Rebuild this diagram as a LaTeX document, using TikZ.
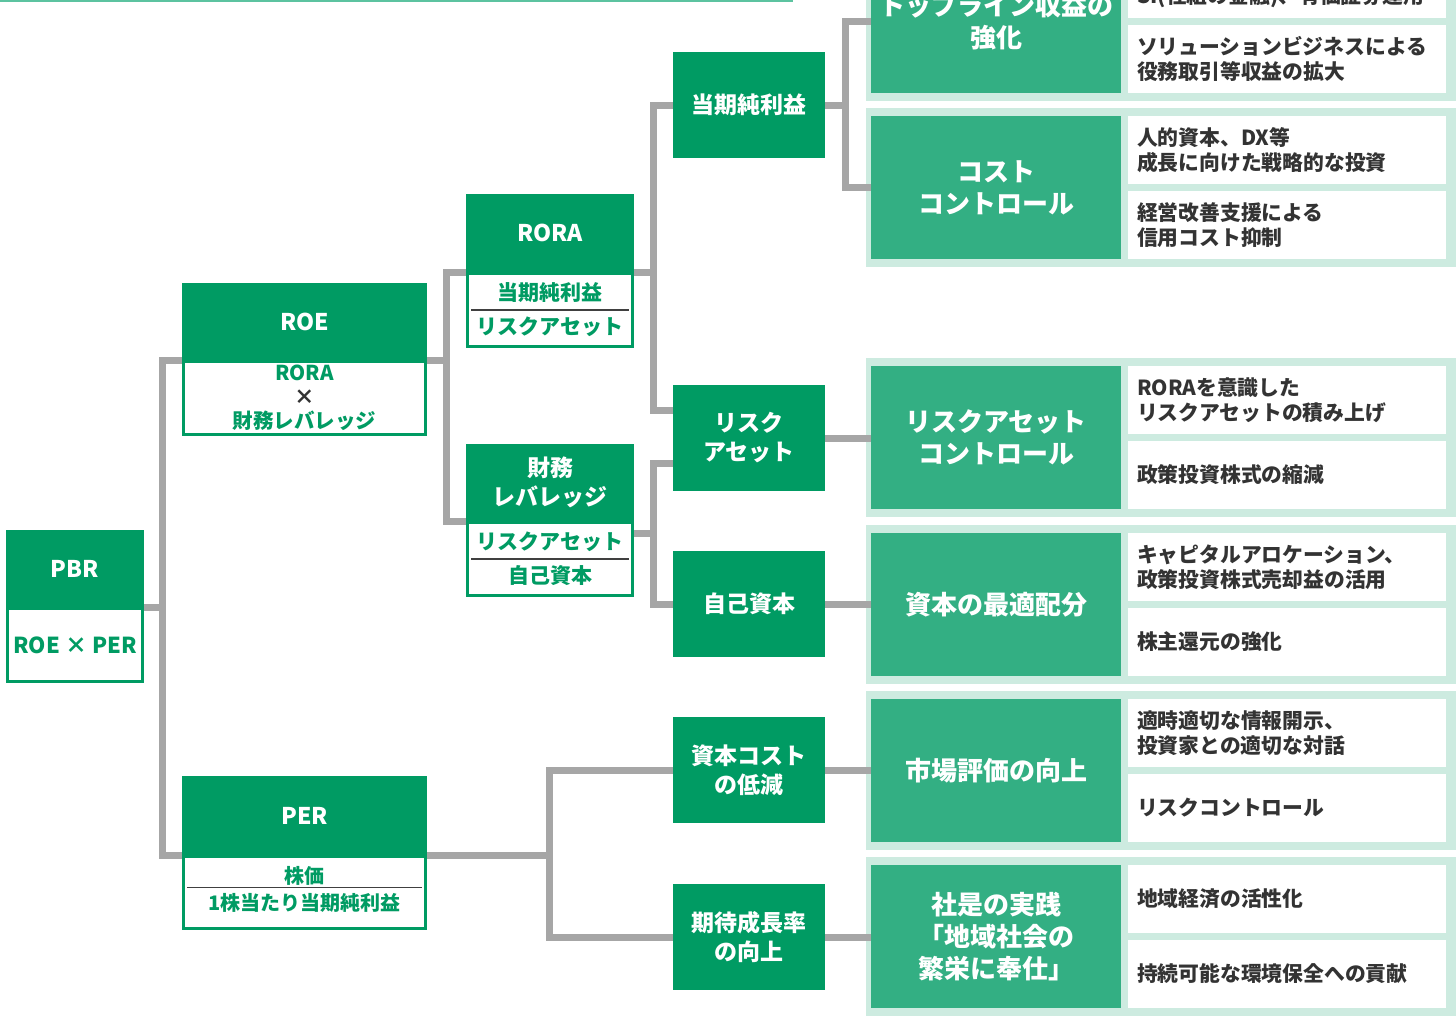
\documentclass[tikz,border=0pt]{standalone}
\usepackage{fontspec}
\setmainfont{Noto Sans CJK JP}
\definecolor{dgreen}{HTML}{009B63}
\definecolor{mgreen}{HTML}{33AF83}
\definecolor{lgreen}{HTML}{CDEBE0}
\definecolor{cgray}{HTML}{A6A6A6}
\definecolor{txt}{HTML}{333333}
\definecolor{topln}{HTML}{5CC3A0}
\begin{document}
\begin{tikzpicture}[x=1pt,y=-1pt,
  hdr/.style={anchor=north west, fill=dgreen, text=white, inner sep=0pt, outer sep=0pt, align=center,
    font=\bfseries\fontsize{23}{29}\selectfont},
  body/.style={anchor=north, fill=white, draw=dgreen, line width=3pt, text=dgreen, inner sep=0pt, align=center,
    font=\bfseries\fontsize{20.5}{24}\selectfont},
  mid/.style={anchor=north west, fill=dgreen, text=white, inner sep=0pt, outer sep=0pt, align=center,
    minimum width=152pt, minimum height=106pt, font=\bfseries\fontsize{23}{29}\selectfont},
  panel/.style={anchor=north west, fill=lgreen, inner sep=0pt, outer sep=0pt, minimum width=592pt, minimum height=159pt},
  inbox/.style={anchor=north west, fill=mgreen, text=white, inner sep=0pt, outer sep=0pt, align=center,
    minimum width=250pt, minimum height=143pt, font=\bfseries\fontsize{26}{32}\selectfont},
  wbox/.style={anchor=north west, fill=white, text=txt, inner xsep=9pt, inner ysep=0pt, outer sep=0pt, align=left,
    text width=300pt, minimum height=68pt, font=\bfseries\fontsize{20.8}{25}\selectfont},
  conn/.style={draw=cgray, line width=7pt, line join=miter},
  frac/.style={draw=black!75, line width=1.5pt}
]
\useasboundingbox (0,0) rectangle (1456,1017);
\clip (0,0) rectangle (1456,1017);

% top rule
\draw[topln, line width=1.6pt] (0,0.8) -- (793,0.8);

% right-hand panels
\node[panel] (g1p) at (866,-58) {};
\node[panel] (g2p) at (866,108) {};
\node[panel] (g3p) at (866,358) {};
\node[panel] (g4p) at (866,525) {};
\node[panel] (g5p) at (866,691) {};
\node[panel] (g6p) at (866,857) {};

% group 1
\node[inbox] (g1i) at (871,-50) {トップライン収益の\\強化};
\node[wbox] (g1a) at (1128,-50) {};
\node[anchor=west, text=txt, inner sep=0pt, font=\bfseries\fontsize{20.8}{25}\selectfont] (g1t) at ([xshift=9pt,yshift=21pt]g1a.south west) {SI(仕組の金融)、有価証券運用};
\node[wbox] (g1b) at (1128,25) {ソリューションビジネスによる\\役務取引等収益の拡大};
% group 2
\node[inbox] (g2i) at (871,116) {コスト\\コントロール};
\node[wbox] (g2a) at (1128,116) {人的資本、DX等\\成長に向けた戦略的な投資};
\node[wbox] (g2b) at (1128,191) {経営改善支援による\\信用コスト抑制};
% group 3
\node[inbox] (g3i) at (871,366) {リスクアセット\\コントロール};
\node[wbox] (g3a) at (1128,366) {RORAを意識した\\リスクアセットの積み上げ};
\node[wbox] (g3b) at (1128,441) {政策投資株式の縮減};
% group 4
\node[inbox] (g4i) at (871,533) {資本の最適配分};
\node[wbox] (g4a) at (1128,533) {キャピタルアロケーション、\\政策投資株式売却益の活用};
\node[wbox] (g4b) at (1128,608) {株主還元の強化};
% group 5
\node[inbox] (g5i) at (871,699) {市場評価の向上};
\node[wbox] (g5a) at (1128,699) {適時適切な情報開示、\\投資家との適切な対話};
\node[wbox] (g5b) at (1128,774) {リスクコントロール};
% group 6
\node[inbox] (g6i) at (871,865) {社是の実践\\「地域社会の\\繁栄に奉仕」};
\node[wbox] (g6a) at (1128,865) {地域経済の活性化};
\node[wbox] (g6b) at (1128,940) {持続可能な環境保全への貢献};

% PBR
\node[hdr, minimum width=138pt, minimum height=77pt] (pbrH) at (6,530) {PBR};
\node[body, minimum width=135pt, minimum height=73pt, font=\bfseries\fontsize{22}{26}\selectfont] (pbrB) at (pbrH.south) {ROE × PER};
% ROE
\node[hdr, minimum width=245pt, minimum height=77pt] (roeH) at (182,283) {ROE};
\node[body, minimum width=242pt, minimum height=73pt] (roeB) at (roeH.south) {RORA\\{\color{txt}×}\\財務レバレッジ};
% PER
\node[hdr, minimum width=245pt, minimum height=79pt] (perH) at (182,776) {PER};
\node[body, minimum width=242pt, minimum height=72pt] (perB) at (perH.south) {};
\node[text=dgreen, inner sep=0pt, align=center, font=\bfseries\fontsize{20}{27}\selectfont] (perT) at ([yshift=3.5pt]perB.center) {株価\\1株当たり当期純利益};
% RORA
\node[hdr, minimum width=168pt, minimum height=78pt] (roraH) at (466,194) {RORA};
\node[body, minimum width=165pt, minimum height=73pt, font=\bfseries\fontsize{21}{34}\selectfont] (roraB) at (roraH.south) {当期純利益\\リスクアセット};
% financial leverage
\node[hdr, minimum width=168pt, minimum height=77pt] (finH) at (466,444) {財務\\レバレッジ};
\node[body, minimum width=165pt, minimum height=73pt, font=\bfseries\fontsize{21}{34}\selectfont] (finB) at (finH.south) {リスクアセット\\自己資本};

\draw[frac] ([xshift=5pt]roraB.west) -- ([xshift=-5pt]roraB.east);
\draw[frac] ([xshift=5pt]finB.west) -- ([xshift=-5pt]finB.east);
\draw[frac] ([xshift=5pt,yshift=5pt]perB.west) -- ([xshift=-5pt,yshift=5pt]perB.east);

% middle column
\node[mid] (tj) at (673,52) {当期純利益};
\node[mid] (ra) at (673,385) {リスク\\アセット};
\node[mid] (jk) at (673,551) {自己資本};
\node[mid] (sc) at (673,717) {資本コスト\\の低減};
\node[mid] (kt) at (673,884) {期待成長率\\の向上};

% connectors
\draw[conn] (pbrH.south east) -- ++(18,0) |- (roeH.south west);
\draw[conn] (pbrH.south east) -- ++(18,0) |- (perH.south west);
\draw[conn] (roeH.south east) -- ++(19,0) |- (roraH.south west);
\draw[conn] (roeH.south east) -- ++(19,0) |- (finH.south west);
\draw[conn] (roraH.south east) -- ++(19,0) |- (tj.west);
\draw[conn] (roraH.south east) -- ++(19,0) |- ([yshift=28pt]ra.west);
\draw[conn] ([yshift=-12pt]finH.south east) -- ++(19,0) |- ([yshift=-25pt]ra.west);
\draw[conn] ([yshift=-12pt]finH.south east) -- ++(19,0) |- (jk.west);
\draw[conn] (perH.south east) -- ++(122,0) |- (sc.west);
\draw[conn] (perH.south east) -- ++(122,0) |- (kt.west);
\draw[conn] (tj.east) -- ++(20,0) |- (g1i.west);
\draw[conn] (tj.east) -- ++(20,0) |- (g2i.west);
\draw[conn] (ra.east) -- (ra.east -| g3i.west);
\draw[conn] (jk.east) -- (jk.east -| g4i.west);
\draw[conn] (sc.east) -- (sc.east -| g5i.west);
\draw[conn] (kt.east) -- (kt.east -| g6i.west);
\end{tikzpicture}
\end{document}
